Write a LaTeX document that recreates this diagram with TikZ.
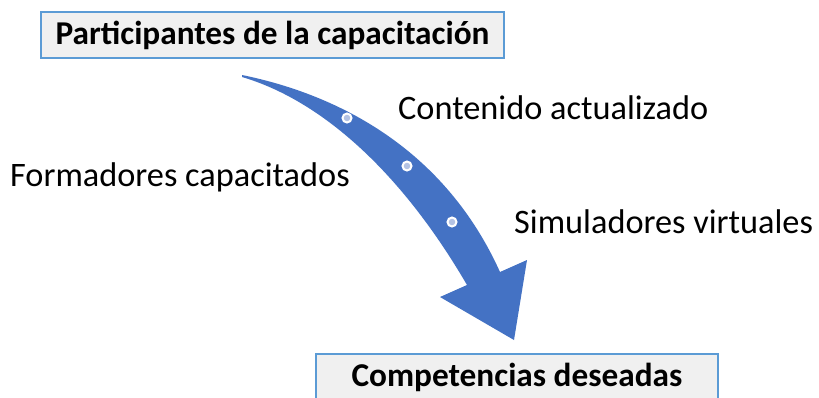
\documentclass[tikz,border=0pt]{standalone}
\usepackage{fontspec}
\setmainfont{Carlito}
\definecolor{arrowblue}{HTML}{4472C4}
\definecolor{boxline}{HTML}{5B9BD5}
\definecolor{boxfill}{HTML}{F0F0F0}
\definecolor{dotfill}{HTML}{B4C3E4}
\begin{document}
\begin{tikzpicture}[x=1pt,y=-1pt,
  titlebox/.style={draw=boxline,line width=2pt,fill=boxfill,inner sep=0pt,
    font=\fontsize{33.3}{36}\selectfont\bfseries},
  lbl/.style={anchor=base west,inner sep=0pt,font=\fontsize{34.3}{36}\selectfont},
  dotmark/.style={circle,fill=dotfill,draw=white,line width=2pt,inner sep=0pt,minimum size=9pt}]
\clip (0,0) rectangle (819,397);
\fill[white] (0,0) rectangle (819,397);
% curved block arrow
\fill[arrowblue] (242,75) .. controls (340,95) and (445,150) .. (500,272)
  -- (527,260) -- (514,340) -- (440,297) -- (467,285)
  .. controls (400,170) and (320,100) .. (242,77) -- cycle;
\node[dotmark] (d1) at (347,118) {};
\node[dotmark] (d2) at (407,166) {};
\node[dotmark] (d3) at (452,222) {};
% boxes
\node[titlebox,minimum width=463pt,minimum height=46pt] (top) at (272.5,35) {Participantes de la capacitación};
\node[titlebox,minimum width=402pt,minimum height=46pt] (bot) at (517,377) {Competencias deseadas};
% labels
\node[lbl] (l1) at (398,119) {Contenido actualizado};
\node[lbl] (l2) at (10,186) {Formadores capacitados};
\node[lbl] (l3) at (514,233) {Simuladores virtuales};
\end{tikzpicture}
\end{document}
